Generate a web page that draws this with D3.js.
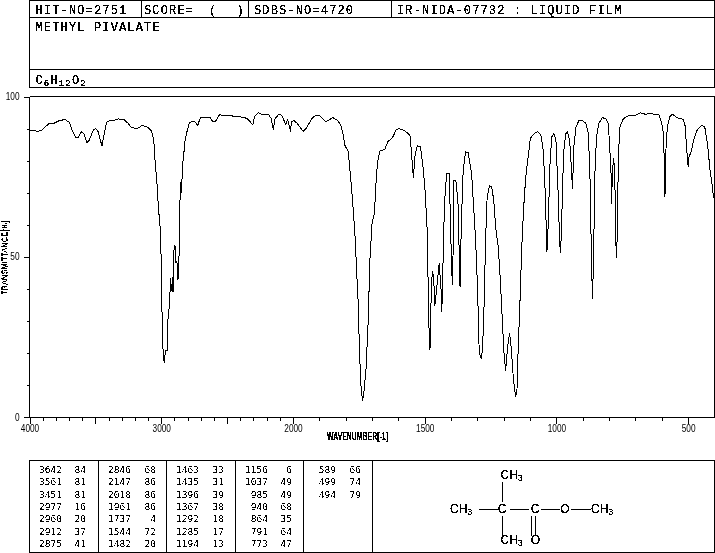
<!DOCTYPE html>
<html>
<head>
<meta charset="utf-8">
<script src="https://cdn.jsdelivr.net/npm/d3@7"></script>
<style>
  body { margin: 0; background: #fff; }
  svg { display: block; }
  text { font-family: "Liberation Mono", monospace; fill: #000; }
  .hdr { font-size: 12px; letter-spacing: 1.15px; }
  .tbl { font-family: "DejaVu Sans Mono", monospace; font-size: 9.5px; }
  .tick-lbl { font-family: "Liberation Sans", sans-serif; font-size: 10px; }
  .atom { font-family: "Liberation Sans", sans-serif; font-size: 12px; }
</style>
</head>
<body>
<div id="chart"></div>
<script>
// spectrum: wavenumber (cm-1) and transmittance (%)
const wavenumbers = [4000,3970,3939,3907,3887,3849,3811,3773,3730,3697,3672,3647,3629,3604,3587,3564,3546,3516,3496,3478,3450,3438,3415,3390,3352,3327,3284,3251,3226,3183,3143,3100,3075,3057,3047,3034,3022,3009,3002,2997,2992,2984,2976,2969,2956,2954,2946,2936,2931,2918,2911,2908,2903,2896,2888,2881,2873,2863,2858,2853,2845,2840,2830,2823,2805,2785,2747,2724,2704,2628,2608,2588,2558,2533,2482,2445,2407,
  2350,2305,2292,2262,2232,2187,2166,2149,2136,2111,2086,2055,2040,2018,2013,1996,1984,1961,1948,1929,1913,1898,1875,1849,1832,1818,1809,1803,1790,1781,1774,1765,1758,1753,1748,1743,1736,1730,1723,1715,1708,1700,1691,1685,1679,1670,1651,1641,1622,1609,1597,1575,1556,1550,1543,1536,1528,1516,1505,1498,1490,1485,1480,1475,1471,1466,1462,1455,1445,1438,1435,1430,1425,1417,1407,1402,1398,1394,1389,1382,1374,1366,1361,1354,1345,1335,1322,1309,
  1303,1298,1293,1289,1284,1279,1274,1269,1263,1254,1246,1238,1231,1221,1213,1206,1200,1193,1185,1178,1171,1165,1160,1155,1150,1145,1139,1132,1125,1117,1109,1099,1088,1071,1059,1050,1044,1039,1036,1031,1025,1018,1010,1002,993,988,984,979,973,965,958,950,945,939,934,926,915,902,888,879,873,867,863,859,854,848,839,826,813,803,798,793,791,787,783,779,777,773,769,765,759,746,727,702,681,664,645,611,601,595,591,588,586,579,569,559,544,519,512,506,500,496,490,481,468,449,437,426,417,408,404,401];
const transmittance = [89.2,89.4,89.1,89.5,90.3,91.6,91.7,92.5,92.8,91.9,89.0,87.2,87.3,89.1,88.4,85.6,86.4,89.5,90.0,89.0,84.5,87.4,91.9,92.5,92.6,93.0,92.9,91.6,90.3,90.0,91.0,90.3,89.3,86.4,79.9,73.9,65.6,59.4,51.1,40.7,26.7,18.4,17.0,20.7,20.7,25.6,32.9,34.5,43.3,39.1,43.6,39.1,52.3,53.7,48.2,48.5,42.8,52.1,67.2,73.4,69.8,78.6,81.2,85.3,89,91.9,92.3,90.9,93.3,93.4,92.1,92.3,94.3,94.1,94.1,93.8,93.7,
  93.2,91.2,93.8,94.9,94.3,94.4,93.2,89.7,93.1,94.3,94.2,91.3,92.8,89.0,92.1,92.5,91.6,89.1,90.3,93.1,94.2,94,92.1,93.4,92.6,91,87.9,84.8,82.7,74.4,67.7,57.3,44.8,36.5,22,10.6,4.9,8.5,14.7,29.3,49,60.4,63.5,72.9,79.6,83,83.5,85.8,87.2,89.5,90,89.3,87.9,82.2,74.7,82.2,84.6,84.3,77,69.8,57.3,30.3,21,39.7,45.4,43.8,34.5,39.7,48,39.7,32.9,50,66.6,76,76,60.4,45.9,41.2,73.9,73.9,67.7,40.7,60.4,77,82.7,82.4,76,58.3,
  48,35.5,19.9,19.2,18,24.6,36.5,55.2,68.7,72.1,71.8,67.7,59.4,53.1,42.8,31.3,21,14.5,22,26.2,21,13.7,9.5,6.4,8,22,34.5,52.1,64.6,74.4,80.1,86.9,88.2,89.1,87.9,83.2,72.9,59.9,51.6,60.4,78,87.4,88.4,86.4,68.7,54.2,51.1,64.6,82.2,88.4,89,86.4,80.1,71,84.3,90.5,92.4,92.6,91.6,88.4,76,49,36.7,50,76,87.4,91.6,93.4,93.1,91.6,84.3,77,66.5,77,80.7,77,67.7,49.7,56.3,81.2,90.5,93.1,94,94,94.9,94.5,94.6,94.4,92,89,81.2,68.7,81.2,90.5,93.8,94.5,93.4,92.9,91,84.3,77.9,81.7,82.2,85.8,89.3,91,90.5,84.8,77,71.8,68.5,68.5];

// peak list printed under the chart
const peakWn = [3642,3561,3451,2977,2960,2912,2875,2846,2147,2018,1961,1737,1544,1482,1463,1435,1396,1367,1292,1285,1194,1156,1037,985,940,864,791,773,589,499,494];
const peakT = [84,81,81,16,20,37,41,68,86,86,86,4,72,20,33,31,39,38,18,17,13,6,49,49,68,35,64,47,66,74,79];

const xMajor = [4000,3500,3000,2500,2000,1500,1000,500];
const xLabels = [4000,3000,2000,1500,1000,500];
const xTicks = d3.range(4000, 399, -100);
const yTicks = d3.range(0, 101, 10);
const yLabels = [0,50,100];

const width = 715, height = 553;

const svg = d3.select("#chart").append("svg")
  .attr("width", width)
  .attr("height", height)
  .attr("viewBox", [0, 0, width, height]);

// threshold the alpha so text looks like the old plotter bitmap, no grey edges
const defs = svg.append("defs");
function hardFilter(id, table) {
  defs.append("filter")
    .attr("id", id)
    .attr("filterUnits", "userSpaceOnUse")
    .attr("x", 0).attr("y", 0).attr("width", width).attr("height", height)
    .attr("color-interpolation-filters", "sRGB")
    .append("feComponentTransfer")
    .append("feFuncA").attr("type", "discrete").attr("tableValues", table);
}
hardFilter("hard", "0 1 1");
hardFilter("hardTbl", "0 1");

const x = d3.scaleLinear().domain([4000, 2000, 400]).range([29.5, 293, 714.5]);
const y = d3.scaleLinear().domain([0, 100]).range([417, 96.5]);

const lines = svg.append("g")
  .attr("fill", "none")
  .attr("stroke", "#000")
  .attr("shape-rendering", "crispEdges");
const txt = svg.append("g").attr("filter", "url(#hard)");
const tblTxt = svg.append("g").attr("filter", "url(#hardTbl)");

function box(x0, y0, x1, y1) {
  lines.append("rect").attr("x", x0).attr("y", y0).attr("width", x1 - x0).attr("height", y1 - y0);
}
function seg(x0, y0, x1, y1) {
  lines.append("line").attr("x1", x0).attr("y1", y0).attr("x2", x1).attr("y2", y1);
}

// header block
box(29.5, 0.5, 714.5, 87.5);
seg(29.5, 17.5, 714.5, 17.5);
seg(29.5, 69.5, 714.5, 69.5);
[141.5, 248.5, 391.5].forEach(d => seg(d, 0.5, d, 17.5));

const hdr = [
  ["HIT-NO=2751", 35.5, 14],
  ["SCORE=", 144, 14],
  ["(", 209, 14],
  [")", 236.5, 14],
  ["SDBS-NO=4720", 254, 14],
  ["IR-NIDA-07732 : LIQUID FILM", 397, 14],
  ["METHYL PIVALATE", 35.5, 31]
];
txt.selectAll("text.hdr").data(hdr).join("text")
  .attr("class", "hdr")
  .attr("x", d => d[1])
  .attr("y", d => d[2])
  .text(d => d[0]);

// formula with subscripts
const formula = txt.append("text").attr("class", "hdr").attr("x", 35.5).attr("y", 83.5);
[["C",0],["6",1],["H",0],["12",1],["O",0],["2",1]].forEach(([s, sub]) => {
  formula.append("tspan")
    .attr("font-size", sub ? 9 : 12)
    .attr("dy", sub ? 2.5 : -2.5)
    .text(s);
});
formula.select("tspan").attr("dy", 0);

// axes
const xAxis = d3.axisBottom(x)
  .tickValues(xTicks)
  .tickSize(3)
  .tickFormat(d => xLabels.includes(d) ? d : "");
const yAxis = d3.axisLeft(y)
  .tickValues(yTicks)
  .tickSize(2.5)
  .tickFormat(d => yLabels.includes(d) ? d : "");

const gx = svg.append("g")
  .attr("transform", "translate(0,417.5)")
  .attr("shape-rendering", "crispEdges")
  .call(xAxis);
const gy = svg.append("g")
  .attr("transform", "translate(29.5,0)")
  .attr("shape-rendering", "crispEdges")
  .call(yAxis);

gx.selectAll(".tick line").attr("y2", d => xMajor.includes(d) ? 6 : 3);
gy.selectAll(".tick line").attr("x2", d => yLabels.includes(d) ? -5.5 : -2.5);
gx.select(".domain").attr("d", `M${x(4000)},0H${x(400)}`);
gy.select(".domain").attr("d", `M0,${y(100)}V${y(0)}`);

// squeeze tick labels to the narrow width of the original
function squeeze(sel) {
  sel.each(function () {
    const n = this.textContent.length;
    if (n) d3.select(this).attr("textLength", n * 4.6).attr("lengthAdjust", "spacingAndGlyphs");
  });
}
gx.selectAll(".tick text").attr("class", "tick-lbl").attr("y", 7).attr("dy", "0.71em").call(squeeze);
gy.selectAll(".tick text").attr("class", "tick-lbl").attr("x", -10).call(squeeze);
gx.attr("font-family", null).attr("font-size", null);
gy.attr("font-family", null).attr("font-size", null);

// top border of the plot runs across, right side too
seg(29.5, y(100), 714.5, y(100));
seg(714.5, y(100), 714.5, 417.5);

// spectrum
const line = d3.line().x(d => x(d[0])).y(d => y(d[1]));
svg.append("path")
  .datum(d3.zip(wavenumbers, transmittance))
  .attr("fill", "none")
  .attr("stroke", "#000")
  .attr("stroke-width", 1)
  .attr("shape-rendering", "crispEdges")
  .attr("d", line);

// axis titles
txt.append("text").attr("class", "tick-lbl")
  .attr("x", 327).attr("y", 440)
  .attr("font-weight", "bold")
  .attr("textLength", 61).attr("lengthAdjust", "spacingAndGlyphs")
  .text("WAVENUMBER[-1]");
txt.append("text").attr("class", "tick-lbl")
  .attr("transform", "translate(7.5,295) rotate(-90)")
  .attr("textLength", 74).attr("lengthAdjust", "spacingAndGlyphs")
  .style("font-size", "9.5px")
  .text("TRANSMITTANCE[%]");

// peak table
box(29.5, 460.5, 714.5, 552.5);
[98.5, 166.5, 235.5, 303.5, 372.5].forEach(d => seg(d, 460.5, d, 552.5));

const colWn = [62, 131, 199, 268, 336];
const colT = [86, 156, 224, 292, 361];
const rowY = d3.scaleLinear().domain([0, 6]).range([473, 547]);
peakWn.forEach((wn, i) => {
  const col = Math.floor(i / 7), row = i % 7;
  tblTxt.append("text").attr("class", "tbl").attr("text-anchor", "end")
    .attr("x", colWn[col]).attr("y", Math.round(rowY(row))).text(wn);
  tblTxt.append("text").attr("class", "tbl").attr("text-anchor", "end")
    .attr("x", colT[col]).attr("y", Math.round(rowY(row))).text(peakT[i]);
});

// structure of methyl pivalate
function ch3(px, py) {
  const t = txt.append("text").attr("class", "atom").attr("x", px).attr("y", py);
  t.append("tspan").text("CH");
  t.append("tspan").attr("font-size", 9).attr("dy", 2).text("3");
}
function atom(s, px, py) {
  txt.append("text").attr("class", "atom").attr("text-anchor", "middle").attr("x", px).attr("y", py).text(s);
}
ch3(500.5, 479);
ch3(450, 513);
ch3(591, 513);
ch3(500.5, 544);
atom("C", 502, 513);
atom("C", 535, 513);
atom("O", 565, 513);
atom("O", 535.5, 544);
seg(502.5, 481.5, 502.5, 501.5);
seg(502.5, 515.5, 502.5, 535.5);
seg(478.5, 509.5, 497.5, 509.5);
seg(509.5, 509.5, 528.5, 509.5);
seg(540.5, 509.5, 559.5, 509.5);
seg(570.5, 509.5, 590.5, 509.5);
seg(531.5, 515.5, 531.5, 535.5);
seg(535.5, 515.5, 535.5, 535.5);
</script>
</body>
</html>
